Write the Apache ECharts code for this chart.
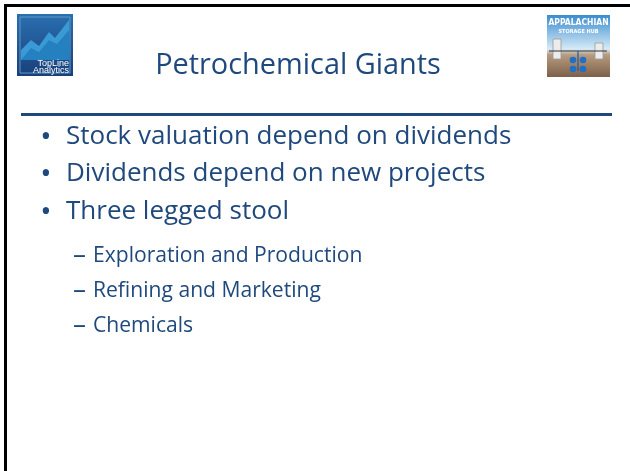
<!DOCTYPE html>
<html>
<head>
<meta charset="utf-8">
<script src="https://cdn.jsdelivr.net/npm/echarts@6/dist/echarts.min.js"></script>
<style>
  html, body { margin: 0; padding: 0; background: #fff; }
  #slide { width: 630px; height: 471px; }
</style>
</head>
<body>
<div id="slide"></div>
<script>
// slide content
var title = 'Petrochemical Giants';
var bullets = ['Stock valuation depend on dividends', 'Dividends depend on new projects', 'Three legged stool'];
var subBullets = ['Exploration and Production', 'Refining and Marketing', 'Chemicals'];
var leftLogoText = ['TopLine', 'Analytics'];
var rightLogoText = ['APPALACHIAN', 'STORAGE HUB'];

var myChart = echarts.init(document.getElementById('slide'));
var blue = '#1F497D';
var family = '"Open Sans", "Noto Sans", sans-serif';

// pick a font size so that a line spans the wanted width
var ctx = document.createElement('canvas').getContext('2d');
function fitSize(text, width) {
  ctx.font = '100px ' + family;
  return 100 * width / ctx.measureText(text).width;
}
var titleSize = fitSize(title, 286);
var bulletSize = fitSize(bullets[0], 446);
var subSize = fitSize(subBullets[0], 270);

var elements = [];

// frame: top and left black edges
elements.push({ type: 'rect', shape: { x: 4, y: 4, width: 626, height: 3 }, style: { fill: '#000' } });
elements.push({ type: 'rect', shape: { x: 4, y: 4, width: 3, height: 467 }, style: { fill: '#000' } });

// left logo (TopLine Analytics)
elements.push({
  type: 'group', x: 17, y: 14,
  children: [
    { type: 'rect', shape: { x: 0, y: 0, width: 56, height: 62 },
      style: { fill: new echarts.graphic.LinearGradient(0, 0, 0, 1, [
        { offset: 0, color: '#2a6fb0' }, { offset: 1, color: '#18407a' }]) } },
    { type: 'rect', shape: { x: 3, y: 3, width: 50, height: 56 },
      style: { fill: 'none', stroke: '#5f97c9', lineWidth: 1 } },
    { type: 'polygon', shape: { points: [[4, 46], [4, 36], [14, 26], [22, 32], [32, 18], [38, 24], [52, 6], [52, 46]] },
      style: { fill: '#3a9ad6' } },
    { type: 'polygon', shape: { points: [[4, 46], [14, 34], [22, 38], [32, 26], [40, 30], [52, 16], [52, 46]] },
      style: { fill: '#2580c0' } },
    { type: 'text', style: { text: leftLogoText[0], x: 52, y: 50, fill: '#fff', font: '9px "Liberation Sans", Arial', align: 'right', verticalAlign: 'middle' } },
    { type: 'text', style: { text: leftLogoText[1], x: 52, y: 57, fill: '#fff', font: '9px "Liberation Sans", Arial', align: 'right', verticalAlign: 'middle' } }
  ]
});

// right logo (Appalachian Storage Hub)
elements.push({
  type: 'group', x: 547, y: 15,
  children: [
    { type: 'rect', shape: { x: 0, y: 0, width: 63, height: 62 },
      style: { fill: new echarts.graphic.LinearGradient(0, 0, 0, 1, [
        { offset: 0, color: '#3a8ccf' }, { offset: 0.55, color: '#d6ebf7' }, { offset: 0.64, color: '#b79c80' }, { offset: 1, color: '#7d6049' }]) } },
    { type: 'text', style: { text: rightLogoText[0], x: 31.5, y: 8, fill: '#fff', font: 'bold 8.5px "DejaVu Sans Condensed", "Liberation Sans Narrow", sans-serif', align: 'center', verticalAlign: 'middle' } },
    { type: 'text', style: { text: rightLogoText[1], x: 31.5, y: 17, fill: '#fff', font: 'bold 5.5px "DejaVu Sans Condensed", sans-serif', align: 'center', verticalAlign: 'middle' } },
    { type: 'rect', shape: { x: 6, y: 24, width: 8, height: 20 }, style: { fill: '#ececec', stroke: '#999', lineWidth: 0.8 } },
    { type: 'rect', shape: { x: 48, y: 28, width: 8, height: 16 }, style: { fill: '#ececec', stroke: '#999', lineWidth: 0.8 } },
    { type: 'line', shape: { x1: 2, y1: 36, x2: 60, y2: 36 }, style: { stroke: '#333', lineWidth: 1 } },
    { type: 'line', shape: { x1: 31, y1: 36, x2: 31, y2: 56 }, style: { stroke: '#1a5aa8', lineWidth: 1.2 } },
    { type: 'circle', shape: { cx: 26, cy: 45, r: 3.3 }, style: { fill: '#1f6fc8' } },
    { type: 'circle', shape: { cx: 36, cy: 45, r: 3.3 }, style: { fill: '#1f6fc8' } },
    { type: 'circle', shape: { cx: 26, cy: 54, r: 3.3 }, style: { fill: '#1f6fc8' } },
    { type: 'circle', shape: { cx: 36, cy: 54, r: 3.3 }, style: { fill: '#1f6fc8' } }
  ]
});

// title
elements.push({ type: 'text', style: { text: title, x: 298, y: 80, fill: blue, font: titleSize.toFixed(1) + 'px ' + family, align: 'center', verticalAlign: 'bottom' } });

// rule under title
elements.push({ type: 'rect', shape: { x: 21, y: 113, width: 591, height: 3 }, style: { fill: blue } });

// bullets
var bulletBase = [145, 182, 220];
bullets.forEach(function (t, i) {
  elements.push({ type: 'text', style: { text: '\u2022', x: 46, y: bulletBase[i] - 8, fill: blue, font: '30px ' + family, align: 'center', verticalAlign: 'middle' } });
  elements.push({ type: 'text', style: { text: t, x: 66, y: bulletBase[i] - 8, fill: blue, font: bulletSize.toFixed(1) + 'px ' + family, align: 'left', verticalAlign: 'middle' } });
});

var subBase = [262, 297, 332];
subBullets.forEach(function (t, i) {
  elements.push({ type: 'text', style: { text: '\u2013', x: 73, y: subBase[i] - 6, fill: blue, font: '26px ' + family, align: 'left', verticalAlign: 'middle' } });
  elements.push({ type: 'text', style: { text: t, x: 93, y: subBase[i] - 6, fill: blue, font: subSize.toFixed(1) + 'px ' + family, align: 'left', verticalAlign: 'middle' } });
});

var option = {
  backgroundColor: '#fff',
  animation: false,
  graphic: { elements: elements }
};

myChart.setOption(option);
window.addEventListener('resize', function () {
  myChart.resize();
});
</script>
</body>
</html>
